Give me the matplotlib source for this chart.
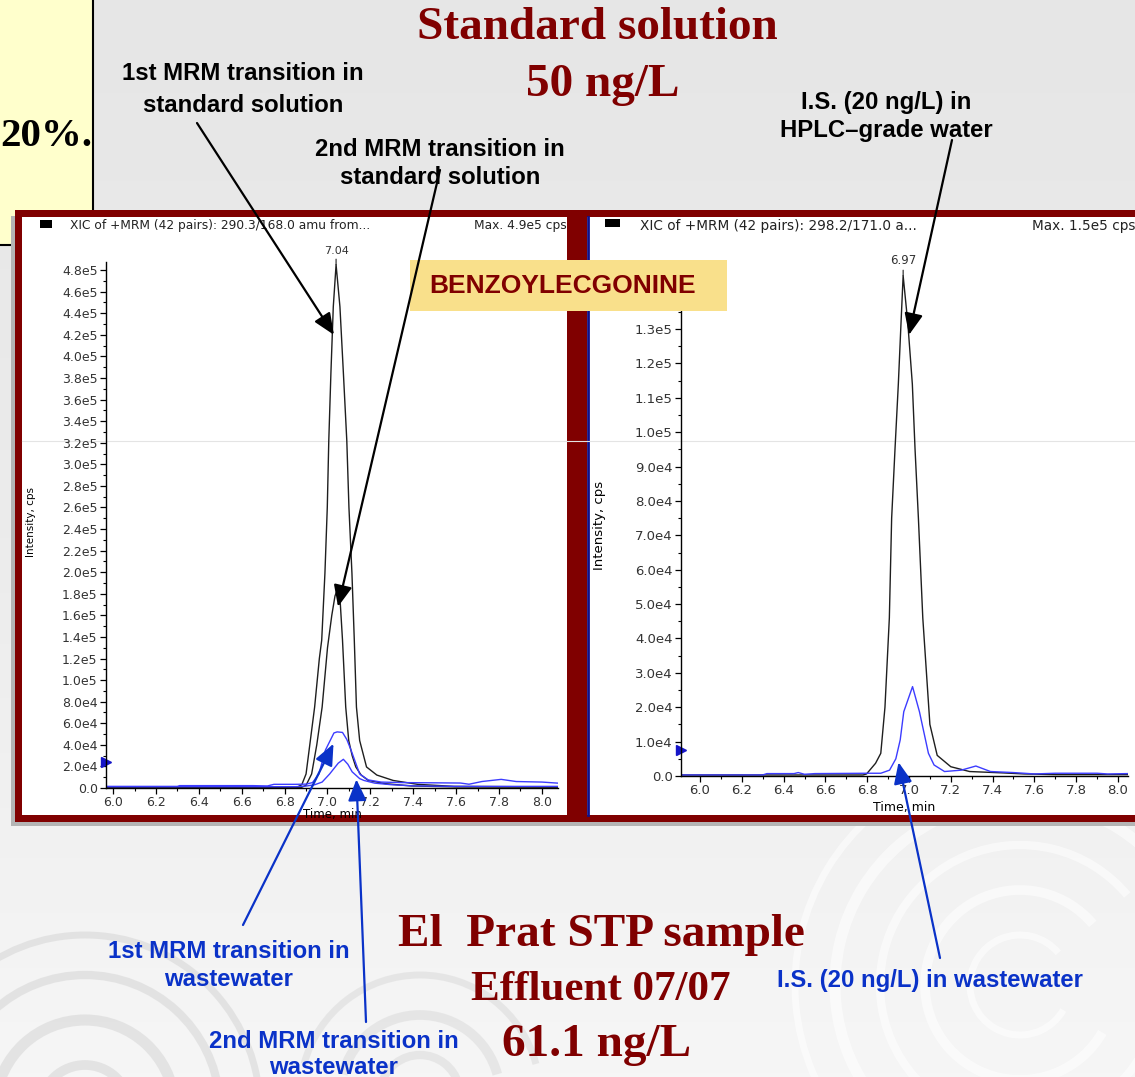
import numpy as np
import matplotlib.pyplot as plt
from matplotlib.patches import Rectangle, Arc
from matplotlib.ticker import MultipleLocator, FuncFormatter

# ============================================================
# DATA
# ============================================================
# left panel: benzoylecgonine, standard solution (black) / wastewater (blue)
std1_t = [5.97, 6.50, 6.86, 6.88, 6.90, 6.94, 6.962, 6.973, 6.988, 6.999, 7.006, 7.016, 7.027,
          7.040, 7.058, 7.074, 7.090, 7.100, 7.114, 7.125, 7.135, 7.150, 7.182, 7.230, 7.306,
          7.420, 7.590, 8.075]
std1_i = [0.8e3, 0.8e3, 1.0e3, 3.0e3, 1.3e4, 7.5e4, 1.2e5, 1.37e5, 1.99e5, 2.6e5, 3.22e5, 3.85e5,
          4.46e5, 4.85e5, 4.46e5, 3.85e5, 3.22e5, 2.6e5, 1.99e5, 1.37e5, 7.5e4, 4.4e4, 1.95e4,
          1.2e4, 7.0e3, 3.4e3, 1.5e3, 1.0e3]

std2_t = [5.97, 6.50, 6.88, 6.90, 6.926, 6.950, 6.975, 7.000, 7.020, 7.035, 7.050, 7.060, 7.070,
          7.085, 7.099, 7.115, 7.132, 7.157, 7.190, 7.270, 7.390, 7.600, 8.075]
std2_i = [0.5e3, 0.5e3, 0.7e3, 2.5e3, 1.3e4, 4.0e4, 7.5e4, 1.3e5, 1.6e5, 1.78e5, 1.86e5, 1.7e5,
          1.37e5, 7.5e4, 4.4e4, 3.0e4, 1.95e4, 1.2e4, 7.0e3, 4.0e3, 1.9e3, 1.0e3, 0.8e3]

ww1_t = [5.97, 6.30, 6.31, 6.65, 6.72, 6.75, 6.85, 6.90, 6.93, 6.96, 6.99, 7.03, 7.045, 7.07,
         7.09, 7.11, 7.15, 7.19, 7.25, 7.35, 7.50, 7.62, 7.66, 7.72, 7.81, 7.88, 8.00, 8.075]
ww1_i = [1.5e3, 1.5e3, 2.2e3, 2.2e3, 1.9e3, 3.4e3, 3.4e3, 3.6e3, 5.0e3, 1.3e4, 3.5e4, 5.1e4,
         5.2e4, 5.15e4, 4.5e4, 3.5e4, 1.3e4, 7.5e3, 5.5e3, 5.0e3, 4.8e3, 4.6e3, 3.5e3, 6.0e3,
         8.0e3, 6.0e3, 5.5e3, 4.5e3]

ww2_t = [5.97, 6.85, 6.90, 6.94, 6.975, 7.01, 7.05, 7.074, 7.095, 7.115, 7.15, 7.17, 7.22, 7.30,
         7.40, 7.60, 8.075]
ww2_i = [1.2e3, 1.2e3, 1.8e3, 3.0e3, 5.5e3, 1.3e4, 2.3e4, 2.66e4, 2.2e4, 1.5e4, 8.7e3, 7.0e3,
         4.5e3, 3.0e3, 2.0e3, 1.5e3, 1.5e3]

# right panel: internal standard, HPLC water (black) / wastewater (blue)
is_std_t = [5.909, 6.78, 6.797, 6.84, 6.865, 6.885, 6.906, 6.917, 6.933, 6.949, 6.962, 6.972,
            6.994, 7.016, 7.029, 7.045, 7.066, 7.10, 7.135, 7.20, 7.29, 7.45, 7.55, 7.70, 8.048]
is_std_i = [3e2, 3e2, 6e2, 3.7e3, 6.6e3, 2.0e4, 4.6e4, 7.5e4, 9.5e4, 1.14e5, 1.32e5, 1.455e5,
            1.32e5, 1.14e5, 9.5e4, 7.5e4, 4.6e4, 1.5e4, 6.0e3, 2.7e3, 1.3e3, 9e2, 6e2, 4e2, 4e2]

is_ww_t = [5.909, 6.30, 6.32, 6.45, 6.47, 6.50, 6.55, 6.80, 6.865, 6.907, 6.937, 6.958, 6.975,
           7.017, 7.05, 7.093, 7.12, 7.17, 7.25, 7.32, 7.39, 7.50, 7.60, 7.70, 7.90, 7.95, 8.048]
is_ww_i = [3e2, 3e2, 7e2, 7e2, 1.0e3, 5e2, 7e2, 8e2, 8e2, 1.7e3, 5.0e3, 1.05e4, 1.87e4, 2.6e4,
           1.87e4, 6.6e3, 3.2e3, 1.3e3, 1.7e3, 2.9e3, 1.3e3, 1.0e3, 6e2, 8e2, 8e2, 6e2, 7e2]

thresh_left = 2.4e4
thresh_right = 7.6e3

# ============================================================
# STYLE
# ============================================================
W, H = 1135, 1077
DARKRED = '#800000'
BLUE_TXT = '#0a32c8'
BLACK_LN = '#1e1e1e'
BLUE_LN = '#3c3cff'
SANS = 'Liberation Sans'
SERIF = 'Liberation Serif'

fig = plt.figure(figsize=(W / 100, H / 100), dpi=100)


def px_axes(l, t, r, b):
    return [l / W, 1 - b / H, (r - l) / W, (b - t) / H]


# ---------------- background ----------------
bg = fig.add_axes([0, 0, 1, 1], zorder=-10)
bg.set_xlim(0, W)
bg.set_ylim(H, 0)
bg.axis('off')
grad = np.linspace(0, 1, 256)[:, None]
bg.imshow(grad, extent=[0, W, H, 0], cmap=plt.matplotlib.colors.LinearSegmentedColormap.from_list(
    'bgc', ['#e6e6e6', '#ececec', '#f6f6f6']), aspect='auto', zorder=0)

# swirl decoration in the lower part of the slide
for r, lw in [(50, 5), (95, 7), (140, 6), (185, 8), (225, 5)]:
    bg.add_patch(Arc((1020, 985), 2 * r, 2 * r, theta1=30, theta2=320, color='white',
                     lw=lw, alpha=0.55, zorder=1))
for r, lw in [(45, 7), (90, 8), (135, 6), (175, 5)]:
    bg.add_patch(Arc((85, 1110), 2 * r, 2 * r, theta1=185, theta2=355, color='#d2d2d2',
                     lw=lw, alpha=0.5, zorder=1))
for r, lw in [(40, 6), (80, 7), (120, 5)]:
    bg.add_patch(Arc((420, 1095), 2 * r, 2 * r, theta1=195, theta2=345, color='#d8d8d8',
                     lw=lw, alpha=0.5, zorder=1))

# yellow side box
bg.add_patch(Rectangle((-5, -5), 98, 250, facecolor='#ffffcc', edgecolor='black', lw=1.5, zorder=2))

# dark red frame with two white panels
bg.add_patch(Rectangle((11, 216), 1130, 610, facecolor='#b4b4b4', edgecolor='none', zorder=2))
bg.add_patch(Rectangle((15, 210), 1125, 612, facecolor=DARKRED, edgecolor='none', zorder=3))
bg.add_patch(Rectangle((22, 217), 545, 598, facecolor='white', edgecolor='none', zorder=4))
bg.add_patch(Rectangle((587, 217), 560, 598, facecolor='white', edgecolor='none', zorder=4))
bg.plot([588, 588], [217, 815], color='#10108a', lw=2, zorder=5)
bg.plot([22, 1135], [441, 441], color='#e4e4e4', lw=0.8, zorder=5)


# ---------------- chromatograms ----------------
def sci_fmt(v, pos):
    if abs(v) < 1e-9:
        return '0.0'
    e = int(np.floor(np.log10(abs(v)) + 1e-9))
    return f'{v / 10 ** e:.1f}e{e}'


def style_axes(ax, ymaj, ymin, lsize):
    ax.set_facecolor('none')
    for s in ['top', 'right']:
        ax.spines[s].set_visible(False)
    for s in ['left', 'bottom']:
        ax.spines[s].set_linewidth(1.0)
    ax.xaxis.set_major_locator(MultipleLocator(0.2))
    ax.xaxis.set_minor_locator(MultipleLocator(0.1))
    ax.yaxis.set_major_locator(MultipleLocator(ymaj))
    ax.yaxis.set_minor_locator(MultipleLocator(ymin))
    ax.xaxis.set_major_formatter(FuncFormatter(lambda v, p: f'{v:.1f}'))
    ax.yaxis.set_major_formatter(FuncFormatter(sci_fmt))
    ax.tick_params(which='major', length=4, width=0.9, labelsize=lsize, labelcolor='#333333',
                   direction='out', pad=2)
    ax.tick_params(which='minor', length=2, width=0.8, direction='out')


ax1 = fig.add_axes(px_axes(106, 262, 558, 788), zorder=1)
ax1.plot(std1_t, std1_i, color=BLACK_LN, lw=1.0)
ax1.plot(std2_t, std2_i, color=BLACK_LN, lw=1.0)
ax1.plot(ww1_t, ww1_i, color=BLUE_LN, lw=1.0)
ax1.plot(ww2_t, ww2_i, color=BLUE_LN, lw=1.0)
ax1.set_xlim(5.967, 8.075)
ax1.set_ylim(0, 4.875e5)
style_axes(ax1, 2e4, 1e4, 9)
ax1.set_xlabel('Time, min', fontsize=8.5, labelpad=-1)
ax1.set_ylabel('Intensity, cps', fontsize=7.5)
ax1.yaxis.set_label_coords(-0.155, 0.506)
ax1.plot([5.967], [thresh_left], marker='>', color='#1515c8', ms=7, clip_on=False)
k = int(np.argmax(std1_i))
ax1.annotate(f'{std1_t[k]:.2f}', xy=(std1_t[k], std1_i[k]), xytext=(0, 6),
             textcoords='offset points', ha='center', va='bottom', fontsize=8, color='#333333',
             arrowprops=dict(arrowstyle='-', lw=0.8, color=BLACK_LN, shrinkA=0, shrinkB=0))

ax2 = fig.add_axes(px_axes(681, 262, 1128, 776), zorder=1)
ax2.plot(is_std_t, is_std_i, color=BLACK_LN, lw=1.0)
ax2.plot(is_ww_t, is_ww_i, color=BLUE_LN, lw=1.0)
ax2.set_xlim(5.909, 8.048)
ax2.set_ylim(0, 1.495e5)
style_axes(ax2, 1e4, 5e3, 9.5)
ax2.set_xlabel('Time, min', fontsize=9, labelpad=3)
ax2.set_ylabel('Intensity, cps', fontsize=9.5)
ax2.yaxis.set_label_coords(-0.168, 0.488)
ax2.plot([5.909], [thresh_right], marker='>', color='#1515c8', ms=7, clip_on=False)
k = int(np.argmax(is_std_i))
ax2.annotate(f'{is_std_t[k]:.2f}', xy=(is_std_t[k], is_std_i[k]), xytext=(0, 6),
             textcoords='offset points', ha='center', va='bottom', fontsize=8.5, color='#333333',
             arrowprops=dict(arrowstyle='-', lw=0.8, color=BLACK_LN, shrinkA=0, shrinkB=0))

# ---------------- overlay: headers, banner, labels, arrows ----------------
ov = fig.add_axes([0, 0, 1, 1], zorder=5)
ov.set_xlim(0, W)
ov.set_ylim(H, 0)
ov.axis('off')
ov.set_facecolor('none')

ov.add_patch(Rectangle((40, 220), 12, 8, facecolor='black'))
ov.text(70, 225, 'XIC of +MRM (42 pairs): 290.3/168.0 amu from...', fontsize=8.8,
        color='#222222', va='center')
ov.text(567, 225, 'Max. 4.9e5 cps', fontsize=8.8, color='#222222', va='center', ha='right')
ov.add_patch(Rectangle((605, 219), 15, 8, facecolor='black'))
ov.text(640, 226, 'XIC of +MRM (42 pairs): 298.2/171.0 a...', fontsize=9.8,
        color='#222222', va='center')
ov.text(1032, 226, 'Max. 1.5e5 cps', fontsize=9.8, color='#222222', va='center', clip_on=True)

ov.add_patch(Rectangle((410, 260), 317, 51, facecolor='#f9e08b', edgecolor='none'))
ov.text(563, 286, 'BENZOYLECGONINE', fontsize=19, fontweight='bold', family=SANS,
        color=DARKRED, ha='center', va='center')

ov.text(92, 137, '20%.', fontsize=29.5, fontweight='bold', family=SERIF, color='black',
        ha='right', va='center')

ov.text(597, 28, 'Standard solution', fontsize=34, fontweight='bold', family=SERIF,
        color=DARKRED, ha='center', va='center')
ov.text(603, 85, '50 ng/L', fontsize=34, fontweight='bold', family=SERIF,
        color=DARKRED, ha='center', va='center')
ov.text(601, 935, 'El  Prat STP sample', fontsize=34, fontweight='bold', family=SERIF,
        color=DARKRED, ha='center', va='center')
ov.text(601, 990, 'Effluent 07/07', fontsize=31, fontweight='bold', family=SERIF,
        color=DARKRED, ha='center', va='center')
ov.text(597, 1045, '61.1 ng/L', fontsize=34, fontweight='bold', family=SERIF,
        color=DARKRED, ha='center', va='center')


def label(lines, x, ys, color):
    for s, y in zip(lines, ys):
        ov.text(x, y, s, fontsize=17.2, fontweight='bold', family=SANS, color=color,
                ha='center', va='center')


label(['1st MRM transition in', 'standard solution'], 243, [73, 105], 'black')
label(['2nd MRM transition in', 'standard solution'], 440, [149, 177], 'black')
label(['I.S. (20 ng/L) in', 'HPLC\u2013grade water'], 886, [103, 131], 'black')
label(['1st MRM transition in', 'wastewater'], 229, [951, 980], BLUE_TXT)
label(['2nd MRM transition in', 'wastewater'], 334, [1041, 1068], BLUE_TXT)
label(['I.S. (20 ng/L) in wastewater'], 930, [980], BLUE_TXT)


def arrow(ax, tip, tail, color):
    ov.annotate('', xy=tip, xycoords=ax.transData, xytext=tail, textcoords=ov.transData,
                arrowprops=dict(arrowstyle='-|>,head_length=0.65,head_width=0.28', lw=1.6,
                                color=color, mutation_scale=20, shrinkA=0, shrinkB=0))


arrow(ax1, (7.030, 4.2e5), (197, 123), 'black')
arrow(ax1, (7.049, 1.68e5), (440, 170), 'black')
arrow(ax2, (7.000, 1.283e5), (952, 140), 'black')
arrow(ax1, (7.028, 4.1e4), (243, 925), BLUE_TXT)
arrow(ax1, (7.135, 8.0e3), (366, 1022), BLUE_TXT)
arrow(ax2, (6.950, 4.0e3), (940, 958), BLUE_TXT)

fig.savefig('out.png', dpi=100)
